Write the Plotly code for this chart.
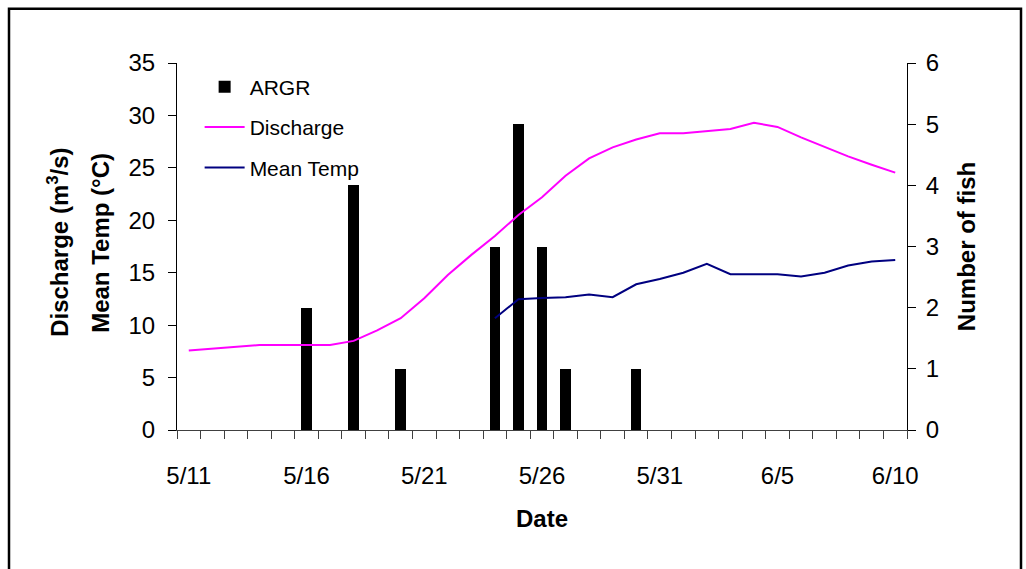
import plotly.graph_objects as go

dates = ["5/11", "5/12", "5/13", "5/14", "5/15", "5/16", "5/17", "5/18", "5/19", "5/20",
         "5/21", "5/22", "5/23", "5/24", "5/25", "5/26", "5/27", "5/28", "5/29", "5/30",
         "5/31", "6/1", "6/2", "6/3", "6/4", "6/5", "6/6", "6/7", "6/8", "6/9", "6/10"]

fish_argr = [0, 0, 0, 0, 0, 2, 0, 4, 0, 1,
             0, 0, 0, 3, 5, 3, 1, 0, 0, 1,
             0, 0, 0, 0, 0, 0, 0, 0, 0, 0, 0]

discharge = [7.57, 7.75, 7.93, 8.1, 8.1, 8.1, 8.1, 8.5, 9.5, 10.66,
             12.56, 14.79, 16.7, 18.51, 20.5, 22.2, 24.25, 25.9, 26.95, 27.7,
             28.3, 28.3, 28.5, 28.7, 29.3, 28.9, 27.9, 27.0, 26.1, 25.3, 24.55]

mean_temp = [None, None, None, None, None, None, None, None, None, None,
             None, None, None, 10.66, 12.47, 12.6, 12.66, 12.91, 12.66, 13.9,
             14.4, 15.0, 15.84, 14.86, 14.86, 14.86, 14.63, 15.0, 15.68, 16.06, 16.22]

label_every = 5

FONT = "Liberation Sans, Arial, sans-serif"
idx = list(range(len(dates)))

fig = go.Figure()
fig.add_trace(go.Bar(x=idx, y=fish_argr, name="ARGR", marker=dict(color="black", line=dict(width=0)),
                     width=0.45, yaxis="y", legendgroup="a"))
fig.add_trace(go.Scatter(x=idx, y=discharge, name="Discharge", mode="lines",
                         line=dict(color="#FF00FF", width=2), yaxis="y2", legendgroup="b"))
fig.add_trace(go.Scatter(x=idx, y=mean_temp, name="Mean Temp", mode="lines",
                         line=dict(color="#000080", width=2), yaxis="y2", legendgroup="c",
                         connectgaps=False))

fig.update_layout(
    width=1026, height=569,
    margin=dict(l=177, r=119, t=63, b=139),
    paper_bgcolor="white", plot_bgcolor="white",
    font=dict(family=FONT, size=24, color="black"),
    bargap=0,
    showlegend=True,
    legend=dict(x=0.031, y=0.99, xanchor="left", yanchor="top",
                font=dict(family=FONT, size=21, color="black"),
                bgcolor="rgba(0,0,0,0)", tracegroupgap=10, itemwidth=40),
    xaxis=dict(
        range=[-0.5, len(dates) - 0.5],
        tickmode="array",
        tickvals=idx[::label_every],
        ticktext=dates[::label_every],
        ticks="", ticklabelstandoff=24,
        showline=True, linecolor="#404040", linewidth=1,
        showgrid=False, zeroline=False,
        tickfont=dict(size=24),
        minor=dict(tickmode="array", tickvals=[i - 0.5 for i in range(len(dates) + 1)],
                   ticks="outside", ticklen=8, tickcolor="#404040", tickwidth=1, showgrid=False),
        title=dict(text="Date", font=dict(size=24, weight="bold"), standoff=22),
    ),
    yaxis=dict(
        side="right", range=[0, 6], dtick=1,
        ticks="outside", ticklen=8, tickcolor="black", ticklabelstandoff=5,
        showline=True, linecolor="black", linewidth=1,
        showgrid=False, zeroline=False,
        tickfont=dict(size=24),
        title=dict(text="Number of fish", font=dict(size=24, weight="bold"), standoff=20),
    ),
    yaxis2=dict(
        overlaying="y", side="left", range=[0, 35], dtick=5,
        ticks="outside", ticklen=8, tickcolor="black", ticklabelstandoff=8,
        showline=True, linecolor="black", linewidth=1,
        showgrid=False, zeroline=False,
        tickfont=dict(size=24),
    ),
    annotations=[
        dict(text="Discharge (m<sup>3</sup>/s)", xref="paper", yref="paper",
             x=(58 - 177) / 730, y=0.51, textangle=-90, showarrow=False,
             font=dict(size=24, weight="bold"), xanchor="center", yanchor="middle"),
        dict(text="Mean Temp (°C)", xref="paper", yref="paper",
             x=(101 - 177) / 730, y=0.51, textangle=-90, showarrow=False,
             font=dict(size=24, weight="bold"), xanchor="center", yanchor="middle"),
    ],
    shapes=[
        dict(type="rect", xref="paper", yref="paper",
             x0=(9 - 177) / 730, x1=(1021 - 177) / 730,
             y0=(430 - 600) / 366.7, y1=(430 - 9) / 366.7,
             line=dict(color="black", width=2.5), fillcolor="rgba(0,0,0,0)", layer="below"),
    ],
)

fig.write_html("out.html")
